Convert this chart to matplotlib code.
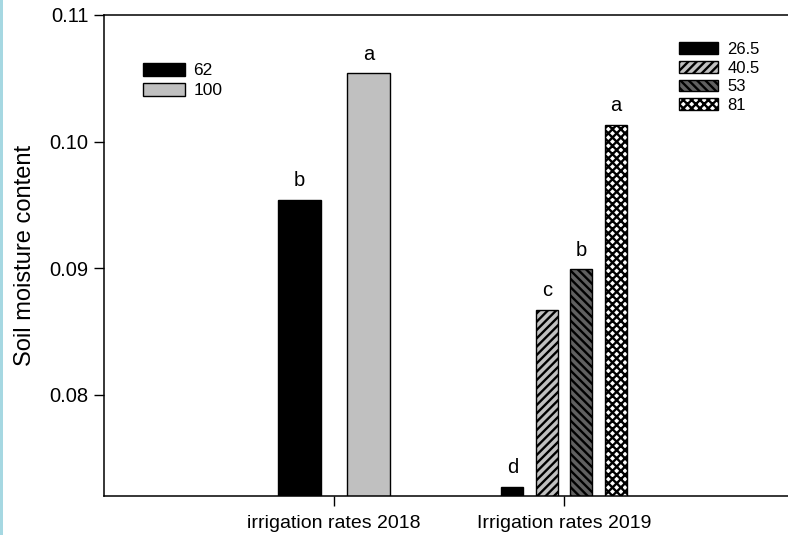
import matplotlib
matplotlib.use("Agg")
import matplotlib.pyplot as plt
from matplotlib.patches import Rectangle

plt.rcParams["font.family"] = ["Liberation Sans", "DejaVu Sans"]
plt.rcParams["hatch.linewidth"] = 1.7
plt.rcParams["hatch.color"] = "black"

# ---------------------------------------------------
# Data
# ---------------------------------------------------

group_labels = ["irrigation rates 2018", "Irrigation rates 2019"]

rates_2018 = ["62", "100"]
moisture_2018 = [0.0954, 0.1054]
letters_2018 = ["b", "a"]

rates_2019 = ["26.5", "40.5", "53", "81"]
moisture_2019 = [0.0727, 0.0867, 0.0899, 0.1013]
letters_2019 = ["d", "c", "b", "a"]

yticks = [0.08, 0.09, 0.10, 0.11]

# ---------------------------------------------------
# Styles
# ---------------------------------------------------

style_2018 = [
    dict(facecolor="black", hatch=None),
    dict(facecolor="#c0c0c0", hatch=None),
]
style_2019 = [
    dict(facecolor="black", hatch=None),
    dict(facecolor="#c0c0c0", hatch="////"),
    dict(facecolor="#606060", hatch="\\\\\\\\"),
    dict(facecolor="white", hatch="xxxx"),
]

fig = plt.figure(figsize=(7.88, 5.35), dpi=100)
ax = fig.add_axes([104 / 788, 39 / 535, 684 / 788, 481 / 535])

# thin blue strip along the left edge of the scan
fig.patches.append(Rectangle((0, 0), 3 / 788, 1, transform=fig.transFigure,
                             facecolor="#a6d8e2", edgecolor="none"))

pitch = 0.15


def draw_group(center, labels, values, letters, styles, width):
    n = len(values)
    handles = []
    for i in range(n):
        x = center + (i - (n - 1) / 2) * pitch * (2 if n == 2 else 1)
        bar = ax.bar(x, values[i], width=width, bottom=0,
                     edgecolor="black", linewidth=1.0,
                     label=labels[i], **styles[i])
        handles.append(bar)
        ax.annotate(letters[i], (x, values[i]), xytext=(0, 7),
                    textcoords="offset points", ha="center", va="bottom",
                    fontsize=14.5)
    return handles


h2018 = draw_group(1, rates_2018, moisture_2018, letters_2018, style_2018, 0.19)
h2019 = draw_group(2, rates_2019, moisture_2019, letters_2019, style_2019, 0.094)

ax.set_xlim(0, 684 / 230)
ax.set_ylim(0.072, 0.11)

ax.set_xticks([1, 2])
ax.set_xticklabels(group_labels, fontsize=14)
ax.set_yticks(yticks)
ax.set_yticklabels([f"{v:.2f}" for v in yticks], fontsize=14.5)
ax.tick_params(direction="out", length=7, width=1, pad=4)
ax.tick_params(axis="x", pad=7)

ax.spines["right"].set_visible(False)
for s in ["left", "bottom", "top"]:
    ax.spines[s].set_linewidth(1.1)

ax.set_ylabel("Soil moisture content", fontsize=17)
ax.yaxis.set_label_coords(-0.099, 0.5)

leg1 = ax.legend(handles=h2018, labels=rates_2018, loc="upper left",
                 bbox_to_anchor=(0.057, 0.901), frameon=False, fontsize=12.5,
                 handlelength=2.4, handleheight=0.8, handletextpad=0.5,
                 labelspacing=0.25, borderpad=0, borderaxespad=0)
ax.add_artist(leg1)

ax.legend(handles=h2019, labels=rates_2019, loc="upper left",
          bbox_to_anchor=(0.841, 0.944), frameon=False, fontsize=12,
          handlelength=2.35, handleheight=0.72, handletextpad=0.55,
          labelspacing=0.22, borderpad=0, borderaxespad=0)

fig.savefig("out.png", dpi=100)
